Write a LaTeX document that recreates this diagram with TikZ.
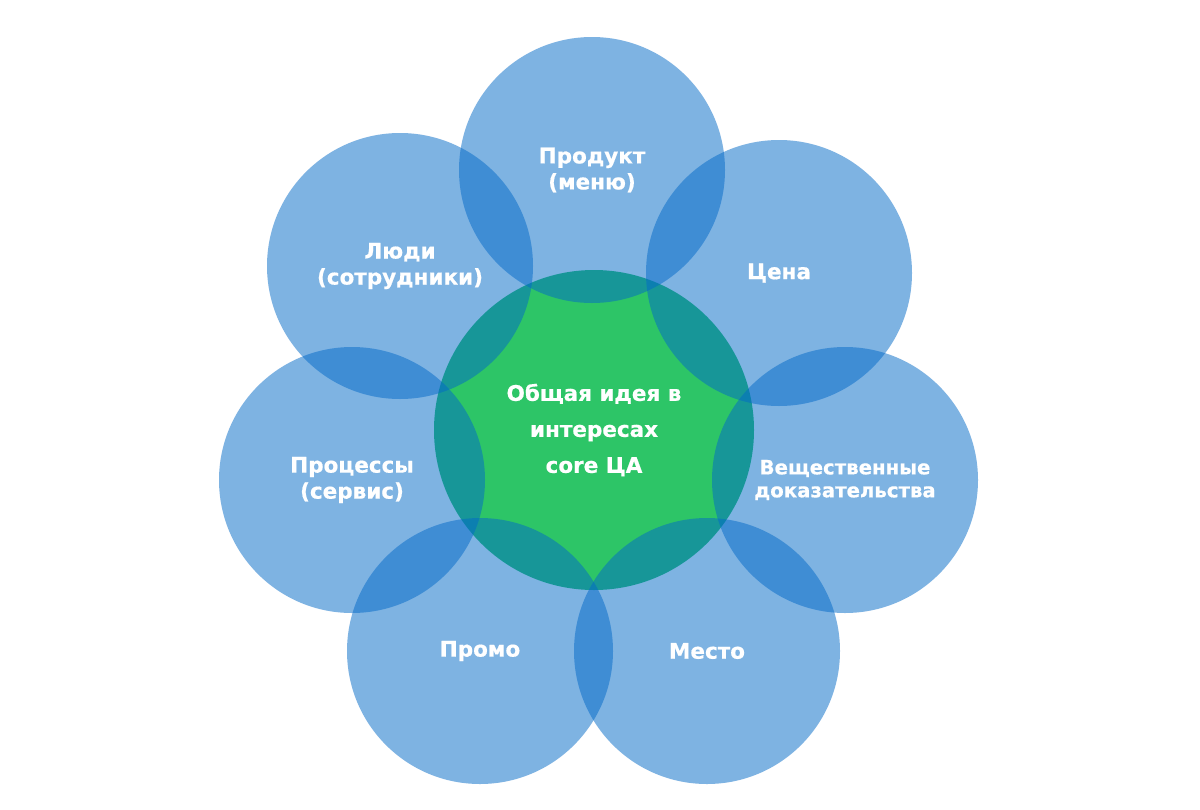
\documentclass[tikz,border=0pt]{standalone}
\usepackage{fontspec}
\setmainfont{DejaVu Sans}[BoldFeatures={FakeBold=0.6}]
\usepackage{tikz}
\usetikzlibrary{positioning}

\definecolor{petalblue}{RGB}{3,106,200}
\definecolor{ideagreen}{RGB}{45,197,103}

\tikzset{
  petal/.style = {circle, minimum size=266pt, inner sep=0pt, fill=petalblue,
    fill opacity=0.51, text opacity=1, text=white, align=center,
    font=\bfseries\fontsize{21.5}{26}\selectfont},
  idea/.style = {circle, minimum size=320pt, inner sep=0pt, fill=ideagreen,
    text=white, align=center, font=\bfseries\fontsize{21.5}{36}\selectfont}
}

\begin{document}
\begin{tikzpicture}[x=1pt, y=-1pt]
\useasboundingbox (0,0) rectangle (1200,809);
\fill[white] (0,0) rectangle (1200,809);

% core of the diagram
\node[idea](core) at (594,430) {Общая идея в\\интересах\\core ЦА};

% the seven petals round it
\node[petal](product) at (592,170) {Продукт\\(меню)};
\node[petal](price) at (779,273) {Цена};
\node[petal, font=\bfseries\fontsize{19.7}{23}\selectfont](evidence) at (845,480) {Вещественные\\доказательства};
\node[petal](place) at (707,651) {Место};
\node[petal](promo) at (480,651) {Промо};
\node[petal](process) at (352,480) {Процессы\\(сервис)};
\node[petal](people) at (400,266) {Люди\\(сотрудники)};
\end{tikzpicture}
\end{document}
